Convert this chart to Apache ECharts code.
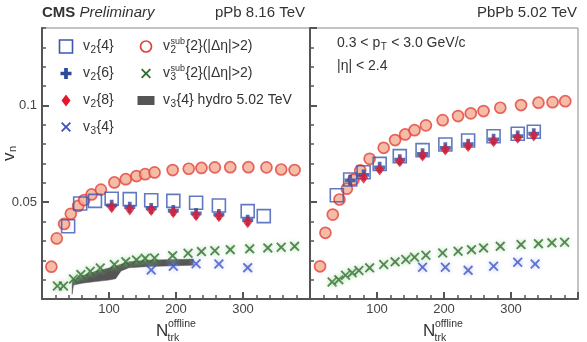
<!DOCTYPE html>
<html>
<head>
<meta charset="utf-8">
<script src="https://cdn.jsdelivr.net/npm/echarts@6/dist/echarts.min.js"></script>
<style>
html, body { margin: 0; padding: 0; background: #fff; }
#chart { width: 587px; height: 342px; }
</style>
</head>
<body>
<div id="chart"></div>
<script>
// ---- pPb 8.16 TeV (left panel) ----
var pPbV2subN  = [14, 22, 33, 43, 54, 63, 74, 88, 108, 125, 141, 154, 168, 195, 219, 238, 258, 281, 308, 335, 357, 377];
var pPbV2subVn = [0.0167, 0.0313, 0.0388, 0.044, 0.0481, 0.0511, 0.054, 0.0565, 0.0602, 0.0619, 0.0635, 0.0645, 0.0654, 0.0666, 0.0673, 0.0677, 0.068, 0.0681, 0.0681, 0.068, 0.0669, 0.0666];
var pPbV24N  = [39, 57, 79, 104, 131, 163, 196, 230, 264, 307, 331];
var pPbV24Vn = [0.0376, 0.0493, 0.0507, 0.0518, 0.0516, 0.051, 0.0507, 0.0497, 0.0483, 0.0454, 0.0428];
var pPbV26N  = [104, 131, 163, 196, 230, 264, 307];
var pPbV26Vn = [0.0484, 0.0474, 0.0468, 0.0457, 0.0442, 0.0436, 0.0407];
var pPbV28N  = [104, 131, 163, 196, 230, 264, 307];
var pPbV28Vn = [0.0474, 0.0463, 0.046, 0.0448, 0.0433, 0.0428, 0.0397];
var pPbV3subN  = [23, 32, 47, 58, 72, 87, 108, 125, 141, 154, 168, 195, 218, 238, 258, 281, 310, 337, 357, 377];
var pPbV3subVn = [0.0067, 0.0067, 0.0103, 0.0126, 0.0143, 0.016, 0.0178, 0.0193, 0.0202, 0.021, 0.0212, 0.0224, 0.0236, 0.0245, 0.0249, 0.0255, 0.0259, 0.0264, 0.0267, 0.0272];
var pPbV34N  = [163, 196, 230, 264, 307];
var pPbV34Vn = [0.015, 0.0169, 0.0182, 0.0181, 0.0162];
// hydro v3{4} band
var hydroN    = [45, 47, 60, 80, 100, 110, 118, 130, 160, 200, 226];
var hydroLow  = [0.0025, 0.0072, 0.0082, 0.009, 0.0098, 0.0105, 0.0145, 0.0162, 0.0168, 0.0172, 0.0175];
var hydroHigh = [0.0092, 0.0100, 0.0120, 0.0143, 0.0160, 0.0170, 0.0180, 0.0193, 0.0201, 0.0204, 0.0206];

// ---- PbPb 5.02 TeV (right panel) ----
var PbV2subN  = [15, 23, 34, 44, 55, 65, 75, 89, 110, 127, 142, 156, 173, 198, 221, 240, 259, 284, 315, 341, 362, 381];
var PbV2subVn = [0.0169, 0.0342, 0.0436, 0.0514, 0.057, 0.0617, 0.0664, 0.0724, 0.0781, 0.0821, 0.085, 0.0872, 0.0897, 0.0924, 0.0945, 0.0959, 0.0971, 0.0988, 0.1002, 0.1014, 0.1017, 0.1022];
var PbV24N  = [40, 60, 80, 104, 134, 168, 202, 236, 274, 310, 334];
var PbV24Vn = [0.0536, 0.0617, 0.0655, 0.0698, 0.0738, 0.0769, 0.0798, 0.0819, 0.0841, 0.0854, 0.0864];
var PbV26N  = [60, 80, 104, 134, 168, 202, 236, 274, 310, 334];
var PbV26Vn = [0.0613, 0.0641, 0.068, 0.072, 0.075, 0.0781, 0.08, 0.0825, 0.0842, 0.0854];
var PbV28N  = [80, 104, 134, 168, 202, 236, 274, 310, 334];
var PbV28Vn = [0.0626, 0.0669, 0.0712, 0.0741, 0.0772, 0.079, 0.0815, 0.0833, 0.0845];
var PbV3subN  = [33, 43, 53, 63, 73, 89, 110, 127, 143, 156, 173, 198, 221, 241, 259, 284, 315, 341, 361, 380];
var PbV3subVn = [0.0088, 0.0100, 0.0123, 0.0135, 0.0147, 0.0161, 0.0178, 0.0192, 0.0204, 0.0216, 0.0226, 0.0238, 0.0247, 0.0255, 0.0264, 0.0272, 0.0281, 0.0286, 0.029, 0.0293];
var PbV34N  = [168, 202, 236, 274, 310, 336];
var PbV34Vn = [0.0164, 0.0164, 0.0148, 0.0169, 0.019, 0.0181];

var xTicks = { min: 0, max: 400, step: 100 };
var yTicks = { min: 0, max: 0.14, step: 0.05, minor: 0.01 };

var FONT = '"Liberation Sans", Arial, sans-serif';
var TXT = '#333';
var AX = '#555';

// marker outlines in a 10x10 box
var PLUS = [[3.3,0],[6.7,0],[6.7,3.3],[10,3.3],[10,6.7],[6.7,6.7],[6.7,10],[3.3,10],[3.3,6.7],[0,6.7],[0,3.3],[3.3,3.3]];
var CROSS = [[0,1.3],[1.3,0],[5,3.7],[8.7,0],[10,1.3],[6.3,5],[10,8.7],[8.7,10],[5,6.3],[1.3,10],[0,8.7],[3.7,5]];
var DIAM = [[5,0],[10,5],[5,10],[0,5]];

function toPath(p) {
    return 'path://M' + p.map(function (q) { return q[0] + ',' + q[1]; }).join('L') + 'Z';
}

var st = {
    circle: { color: '#f2ab92', borderColor: '#e3423a', borderWidth: 1.7 },
    square: { color: 'rgba(255,255,255,0)', borderColor: '#3b57b2', borderWidth: 1.6 },
    plus: { color: '#2c4a9e' },
    diamond: { color: '#e2182a' },
    green: { color: '#2e6e2e', shadowBlur: 4, shadowColor: '#9fd39a' },
    blueX: { color: '#3d55c4', shadowBlur: 4, shadowColor: '#a9b8f0' }
};

function pts(xs, ys) {
    return xs.map(function (x, i) { return [x, ys[i]]; });
}

function sc(name, xs, ys, g, symbol, size, style) {
    return {
        type: 'scatter', name: name, xAxisIndex: g, yAxisIndex: g * 2,
        data: pts(xs, ys), symbol: symbol, symbolSize: size,
        itemStyle: style, silent: true
    };
}

// filled band drawn as one polygon through the axis scales
function band(xs, lo, hi, g) {
    var data = xs.map(function (x, i) { return [x, lo[i], hi[i]]; });
    return {
        type: 'custom', name: 'v3{4} hydro 5.02 TeV', xAxisIndex: g, yAxisIndex: g * 2,
        data: data, encode: { x: 0, y: [1, 2] }, silent: true, clip: true,
        renderItem: function (params, api) {
            if (params.dataIndex !== 0) return null;
            var up = [], down = [];
            data.forEach(function (d) {
                up.push(api.coord([d[0], d[2]]));
                down.unshift(api.coord([d[0], d[1]]));
            });
            return {
                type: 'polygon', shape: { points: up.concat(down) },
                style: { fill: '#555', stroke: '#555', lineWidth: 0.5 }
            };
        }
    };
}

// text measurement for chained sub/superscripts
var ctx = document.createElement('canvas').getContext('2d');
function tw(s, size, style) {
    ctx.font = (style || '') + ' ' + size + 'px ' + FONT;
    return ctx.measureText(s).width;
}
function t(s, x, y, size, extra) {
    var style = { text: s, x: x, y: y, fontSize: size, fontFamily: FONT, fill: TXT, verticalAlign: 'middle' };
    for (var k in extra) style[k] = extra[k];
    return { type: 'text', style: style, silent: true };
}
// segs: strings (normal), {sub:}, {sup:, sub:}
function label(x, y, size, segs) {
    var out = [];
    segs.forEach(function (s) {
        if (typeof s === 'string') {
            out.push(t(s, x, y, size));
            x += tw(s, size);
        } else if (s.sup) {
            out.push(t(s.sup, x + 0.5, y - 5, 9));
            out.push(t(s.sub, x + 0.5, y + 4, 10));
            x += Math.max(tw(s.sup, 9), tw(s.sub, 10)) + 1;
        } else {
            out.push(t(s.sub, x + 0.5, y + 4, 10));
            x += tw(s.sub, 10) + 1;
        }
    });
    return out;
}

function polySym(p, cx, cy, w, h, fill) {
    var pp = p.map(function (q) { return [cx - w / 2 + q[0] * w / 10, cy - h / 2 + q[1] * h / 10]; });
    return { type: 'polygon', shape: { points: pp }, style: { fill: fill }, silent: true };
}

var rows = [46.5, 73.5, 100.5, 127];
var c1s = 66, c1t = 83, c2s = 146, c2t = 163;

var graphics = [];
graphics.push(t('CMS', 42, 13, 15, { fontWeight: 'bold' }));
graphics.push(t('Preliminary', 42 + tw('CMS ', 15, 'bold'), 13, 15, { fontStyle: 'italic' }));
graphics.push(t('pPb 8.16 TeV', 305, 13, 15, { align: 'right' }));
graphics.push(t('PbPb 5.02 TeV', 577, 13, 15, { align: 'right' }));

// legend, column 1
graphics.push({ type: 'rect', shape: { x: c1s - 6.5, y: rows[0] - 6.5, width: 13, height: 13 }, style: { fill: 'none', stroke: '#3b57b2', lineWidth: 1.6 }, silent: true });
graphics = graphics.concat(label(c1t, rows[0], 14, ['v', { sub: '2' }, '{4}']));
graphics.push(polySym(PLUS, c1s, rows[1], 11, 11, '#2c4a9e'));
graphics = graphics.concat(label(c1t, rows[1], 14, ['v', { sub: '2' }, '{6}']));
graphics.push(polySym(DIAM, c1s, rows[2], 9, 12, '#e2182a'));
graphics = graphics.concat(label(c1t, rows[2], 14, ['v', { sub: '2' }, '{8}']));
graphics.push(polySym(CROSS, c1s, rows[3], 10, 10, '#3d55c4'));
graphics = graphics.concat(label(c1t, rows[3], 14, ['v', { sub: '3' }, '{4}']));
// legend, column 2
graphics.push({ type: 'circle', shape: { cx: c2s, cy: rows[0], r: 5.5 }, style: { fill: '#fff', stroke: '#e3423a', lineWidth: 1.7 }, silent: true });
graphics = graphics.concat(label(c2t, rows[0], 14, ['v', { sup: 'sub', sub: '2' }, '{2}(|\u0394\u03b7|>2)']));
graphics.push(polySym(CROSS, c2s, rows[1], 10, 10, '#2e6e2e'));
graphics = graphics.concat(label(c2t, rows[1], 14, ['v', { sup: 'sub', sub: '3' }, '{2}(|\u0394\u03b7|>2)']));
graphics.push({ type: 'rect', shape: { x: c2s - 8.5, y: rows[2] - 4.5, width: 17, height: 9 }, style: { fill: '#555' }, silent: true });
graphics = graphics.concat(label(c2t, rows[2], 14, ['v', { sub: '3' }, '{4} hydro 5.02 TeV']));

// kinematic cuts
graphics = graphics.concat(label(337, 43, 14, ['0.3 < p', { sub: 'T' }, ' < 3.0 GeV/c']));
graphics.push(t('|\u03b7| < 2.4', 337, 66, 14));

// axis titles
graphics.push({ type: 'group', x: 9, y: 161, rotation: Math.PI / 2, children: [
    t('v', 0, 0, 17), t('n', 9, 4, 11)
] });
[156, 423].forEach(function (x0) {
    graphics.push(t('N', x0, 331, 17));
    graphics.push(t('offline', x0 + 12, 324.5, 10.5));
    graphics.push(t('trk', x0 + 11.5, 338.5, 10.5));
});

function xAx(g) {
    return {
        type: 'value', gridIndex: g, min: xTicks.min, max: xTicks.max, interval: xTicks.step,
        axisLine: { show: true, onZero: false, lineStyle: { color: AX, width: 2 } },
        axisTick: { show: true, inside: true, length: 7, lineStyle: { color: AX, width: 2 } },
        minorTick: { show: true, splitNumber: 5, length: 4, lineStyle: { color: AX, width: 1.5 } },
        axisLabel: { showMinLabel: false, showMaxLabel: false, margin: 4, fontSize: 13, color: '#444', fontFamily: FONT },
        splitLine: { show: false }
    };
}
function yMajor(g, showLabel) {
    return {
        type: 'value', gridIndex: g, position: 'left', min: yTicks.min, max: yTicks.max, interval: yTicks.step,
        axisLine: { show: true, onZero: false, lineStyle: { color: AX, width: 2 } },
        axisTick: { show: true, inside: true, length: 7, lineStyle: { color: AX, width: 2 } },
        axisLabel: { show: showLabel, showMinLabel: false, showMaxLabel: false, margin: 5, fontSize: 13, color: '#444', fontFamily: FONT },
        splitLine: { show: false }
    };
}
function yMinor(g) {
    return {
        type: 'value', gridIndex: g, position: 'left', min: yTicks.min, max: yTicks.max, interval: yTicks.minor,
        axisLine: { show: false },
        axisTick: { show: true, inside: true, length: 4, lineStyle: { color: AX, width: 1.5 } },
        axisLabel: { show: false },
        splitLine: { show: false }
    };
}

var series = [
    band(hydroN, hydroLow, hydroHigh, 0),
    sc('v2sub{2}', pPbV2subN, pPbV2subVn, 0, 'circle', 11, st.circle),
    sc('v2{4}', pPbV24N, pPbV24Vn, 0, 'rect', 13, st.square),
    sc('v2{6}', pPbV26N, pPbV26Vn, 0, toPath(PLUS), 11, st.plus),
    sc('v2{8}', pPbV28N, pPbV28Vn, 0, 'diamond', [9, 12], st.diamond),
    sc('v3sub{2}', pPbV3subN, pPbV3subVn, 0, toPath(CROSS), 10, st.green),
    sc('v3{4}', pPbV34N, pPbV34Vn, 0, toPath(CROSS), 10, st.blueX),

    sc('v2sub{2}', PbV2subN, PbV2subVn, 1, 'circle', 11, st.circle),
    sc('v2{4}', PbV24N, PbV24Vn, 1, 'rect', 13, st.square),
    sc('v2{6}', PbV26N, PbV26Vn, 1, toPath(PLUS), 11, st.plus),
    sc('v2{8}', PbV28N, PbV28Vn, 1, 'diamond', [9, 12], st.diamond),
    sc('v3sub{2}', PbV3subN, PbV3subVn, 1, toPath(CROSS), 10, st.green),
    sc('v3{4}', PbV34N, PbV34Vn, 1, toPath(CROSS), 10, st.blueX)
];

var chart = echarts.init(document.getElementById('chart'), null, { renderer: 'canvas' });
chart.setOption({
    animation: false,
    backgroundColor: '#fff',
    textStyle: { fontFamily: FONT },
    grid: [
        { left: 42, top: 28, width: 268, height: 271, show: true, borderColor: '#888', borderWidth: 1 },
        { left: 310, top: 28, width: 268, height: 271, show: true, borderColor: '#888', borderWidth: 1 }
    ],
    xAxis: [xAx(0), xAx(1)],
    yAxis: [yMajor(0, true), yMinor(0), yMajor(1, false), yMinor(1)],
    series: series,
    graphic: graphics
});
</script>
</body>
</html>
